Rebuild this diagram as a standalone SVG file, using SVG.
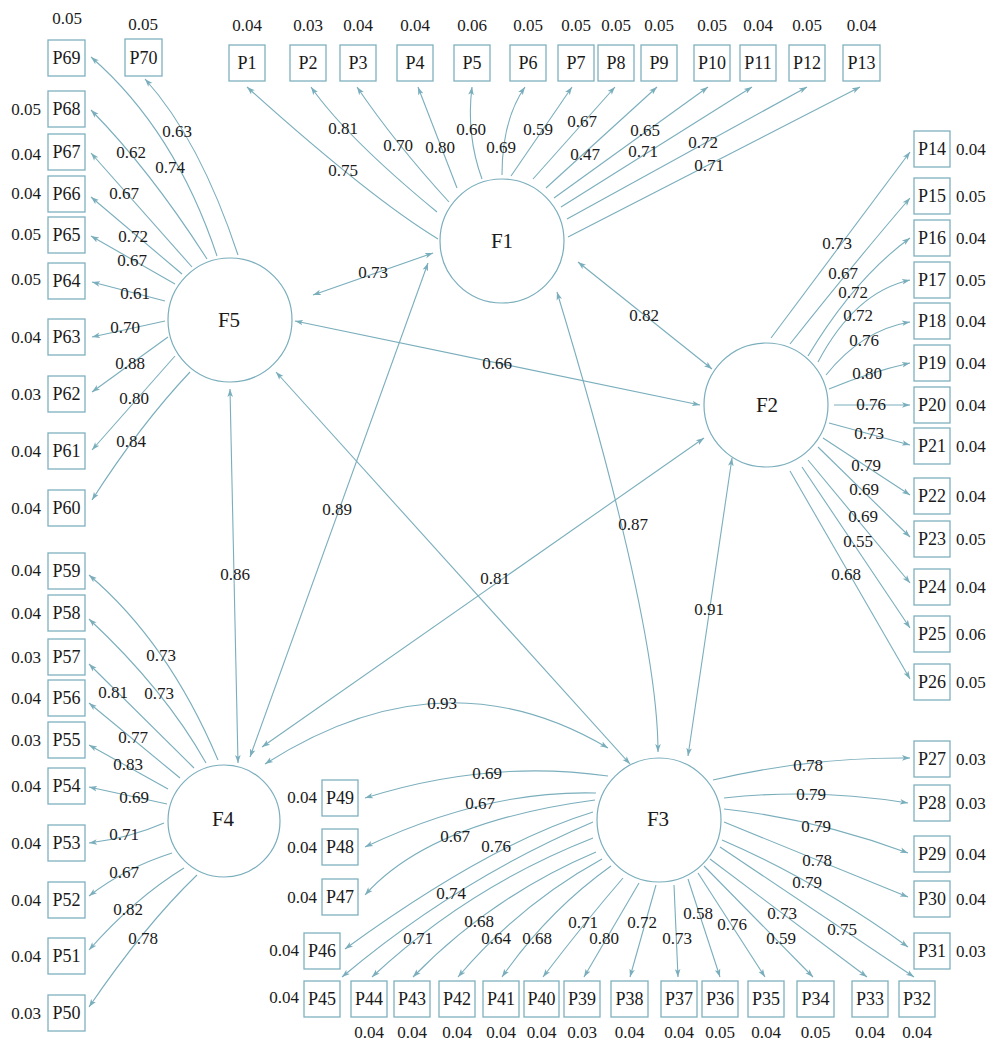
<svg xmlns="http://www.w3.org/2000/svg" width="989" height="1040" viewBox="0 0 989 1040">
<defs>
<style>
text{font-family:"Liberation Serif","Times New Roman",serif;fill:#1a1a1a}
.n{font-size:17px;text-anchor:middle}
.nl{font-size:17px;text-anchor:end}
.nr{font-size:17px;text-anchor:start}
.bt{font-size:18px;text-anchor:middle}
.ft{font-size:21px;text-anchor:middle}
rect{fill:#fff;stroke:#7fb0bf;stroke-width:1.3}
circle{fill:#fff;stroke:#7aaebc;stroke-width:1.2}
.e{fill:none;stroke:#7aaebc;stroke-width:1.1;marker-end:url(#ah)}
.c{fill:none;stroke:#7aaebc;stroke-width:1.1;marker-start:url(#ah);marker-end:url(#ah)}
</style>
<marker id="ah" viewBox="0 0 10 10" refX="10" refY="5" markerWidth="8" markerHeight="8" markerUnits="userSpaceOnUse" orient="auto-start-reverse"><path d="M0,1.5 L10,5 L0,8.5 L2.5,5 z" fill="#7aaebc"/></marker>
</defs>
<rect x="0" y="0" width="989" height="1040" style="fill:#fff;stroke:none"/>
<g id="connectors">
<!-- F1 loadings -->
<path class="e" d="M438,239 Q369,197 247,87"/>
<path class="e" d="M437,212 Q347,138 311,87"/>
<path class="e" d="M449,202 Q395,143 357,87"/>
<path class="e" d="M457,188 L418,87"/>
<path class="e" d="M482,179 Q466,135 472,87"/>
<path class="e" d="M502,175 Q502,120 525,87"/>
<path class="e" d="M511,176 L572,87"/>
<path class="e" d="M533,179 L615,87"/>
<path class="e" d="M546,188 L657,87"/>
<path class="e" d="M554,198 L708,87"/>
<path class="e" d="M561,207 L752,87"/>
<path class="e" d="M567,219 L807,87"/>
<path class="e" d="M568,237 L860,87"/>
<!-- F2 loadings -->
<path class="e" d="M771,338 L910,152"/>
<path class="e" d="M790,344 Q855,262 910,198"/>
<path class="e" d="M808,356 Q855,278 910,238"/>
<path class="e" d="M818,362 Q855,292 910,280"/>
<path class="e" d="M826,375 Q862,330 910,322"/>
<path class="e" d="M829,389 Q870,372 910,363"/>
<path class="e" d="M834,405 L910,405"/>
<path class="e" d="M829,423 L910,445"/>
<path class="e" d="M823,438 L910,495"/>
<path class="e" d="M818,447 L910,537"/>
<path class="e" d="M808,460 L910,583"/>
<path class="e" d="M802,467 L910,628"/>
<path class="e" d="M790,471 L910,679"/>
<!-- F3 loadings -->
<path class="e" d="M713,780 Q810,757 910,758"/>
<path class="e" d="M724,798 Q815,788 908,803"/>
<path class="e" d="M724,809 Q816,819 908,853"/>
<path class="e" d="M724,822 L908,897"/>
<path class="e" d="M722,840 Q815,880 908,947"/>
<path class="e" d="M720,847 L914,977"/>
<path class="e" d="M710,859 L867,977"/>
<path class="e" d="M704,866 L813,977"/>
<path class="e" d="M698,873 L765,977"/>
<path class="e" d="M688,879 L720,977"/>
<path class="e" d="M674,885 L678,977"/>
<path class="e" d="M656,885 L630,977"/>
<path class="e" d="M639,883 L584,977"/>
<path class="e" d="M623,878 Q585,922 543,977"/>
<path class="e" d="M611,866 Q548,911 502,977"/>
<path class="e" d="M602,859 Q520,904 458,977"/>
<path class="e" d="M596,852 Q492,896 413,977"/>
<path class="e" d="M593,838 Q468,887 372,977"/>
<path class="e" d="M593,822 Q457,880 342,977"/>
<path class="e" d="M593,812 Q491,843 345,949"/>
<path class="e" d="M595,800 Q430,822 365,895"/>
<path class="e" d="M596,793 Q485,790 365,847"/>
<path class="e" d="M608,776 Q488,759 365,798"/>
<!-- F4 loadings -->
<path class="e" d="M218,760 Q168,642 89,575"/>
<path class="e" d="M206,763 Q165,690 89,619"/>
<path class="e" d="M194,768 L89,664"/>
<path class="e" d="M180,778 L89,703"/>
<path class="e" d="M168,789 L89,745"/>
<path class="e" d="M167,804 L89,787"/>
<path class="e" d="M164,823 Q130,838 89,843"/>
<path class="e" d="M172,853 Q125,868 89,896"/>
<path class="e" d="M184,868 Q135,898 89,950"/>
<path class="e" d="M197,875 Q145,925 89,1007"/>
<!-- F5 loadings -->
<path class="e" d="M238,255 Q200,140 145,79"/>
<path class="e" d="M217,256 Q175,130 91,57"/>
<path class="e" d="M207,259 Q150,170 91,110"/>
<path class="e" d="M192,267 L91,153"/>
<path class="e" d="M182,274 L91,197"/>
<path class="e" d="M175,284 L91,236"/>
<path class="e" d="M165,301 L92,282"/>
<path class="e" d="M165,321 L92,337"/>
<path class="e" d="M168,337 L92,392"/>
<path class="e" d="M175,356 L92,450"/>
<path class="e" d="M190,372 Q140,425 92,500"/>
<!-- correlations -->
<path class="c" d="M313,295 L433,253"/>
<path class="c" d="M578,262 L712,369"/>
<path class="c" d="M295,321 L700,405"/>
<path class="c" d="M428,263 L250,757"/>
<path class="c" d="M704,438 L262,747"/>
<path class="c" d="M276,372 L630,764"/>
<path class="c" d="M230,389 L238,763"/>
<path class="c" d="M557,292 Q658,625 658,752"/>
<path class="c" d="M732,458 L688,756"/>
<path class="c" d="M265,764 Q443,650 608,748"/>
<!-- loading labels -->
<g class="lbl">
<text class="n" x="343" y="176">0.75</text>
<text class="n" x="343" y="134">0.81</text>
<text class="n" x="398" y="151">0.70</text>
<text class="n" x="440" y="153">0.80</text>
<text class="n" x="471" y="135">0.60</text>
<text class="n" x="501" y="153">0.69</text>
<text class="n" x="538" y="135">0.59</text>
<text class="n" x="582" y="127">0.67</text>
<text class="n" x="585" y="160">0.47</text>
<text class="n" x="645" y="136">0.65</text>
<text class="n" x="643" y="157">0.71</text>
<text class="n" x="703" y="148">0.72</text>
<text class="n" x="709" y="171">0.71</text>

<text class="n" x="837" y="249">0.73</text>
<text class="n" x="843" y="279">0.67</text>
<text class="n" x="853" y="298">0.72</text>
<text class="n" x="858" y="321">0.72</text>
<text class="n" x="864" y="346">0.76</text>
<text class="n" x="867" y="379">0.80</text>
<text class="n" x="871" y="410">0.76</text>
<text class="n" x="869" y="439">0.73</text>
<text class="n" x="866" y="471">0.79</text>
<text class="n" x="864" y="495">0.69</text>
<text class="n" x="863" y="522">0.69</text>
<text class="n" x="858" y="547">0.55</text>
<text class="n" x="846" y="580">0.68</text>

<text class="n" x="808" y="771">0.78</text>
<text class="n" x="811" y="800">0.79</text>
<text class="n" x="816" y="832">0.79</text>
<text class="n" x="817" y="866">0.78</text>
<text class="n" x="807" y="888">0.79</text>
<text class="n" x="842" y="935">0.75</text>
<text class="n" x="782" y="919">0.73</text>
<text class="n" x="781" y="944">0.59</text>
<text class="n" x="732" y="930">0.76</text>
<text class="n" x="698" y="919">0.58</text>
<text class="n" x="677" y="944">0.73</text>
<text class="n" x="642" y="928">0.72</text>
<text class="n" x="604" y="944">0.80</text>
<text class="n" x="583" y="928">0.71</text>
<text class="n" x="537" y="944">0.68</text>
<text class="n" x="496" y="944">0.64</text>
<text class="n" x="479" y="927">0.68</text>
<text class="n" x="418" y="944">0.71</text>
<text class="n" x="451" y="899">0.74</text>
<text class="n" x="496" y="852">0.76</text>
<text class="n" x="455" y="842">0.67</text>
<text class="n" x="480" y="809">0.67</text>
<text class="n" x="487" y="779">0.69</text>

<text class="n" x="161" y="661">0.73</text>
<text class="n" x="159" y="699">0.73</text>
<text class="n" x="113" y="698">0.81</text>
<text class="n" x="133" y="743">0.77</text>
<text class="n" x="128" y="770">0.83</text>
<text class="n" x="134" y="803">0.69</text>
<text class="n" x="124" y="840">0.71</text>
<text class="n" x="124" y="878">0.67</text>
<text class="n" x="128" y="915">0.82</text>
<text class="n" x="143" y="944">0.78</text>

<text class="n" x="177" y="137">0.63</text>
<text class="n" x="170" y="173">0.74</text>
<text class="n" x="131" y="158">0.62</text>
<text class="n" x="124" y="199">0.67</text>
<text class="n" x="133" y="242">0.72</text>
<text class="n" x="132" y="266">0.67</text>
<text class="n" x="135" y="299">0.61</text>
<text class="n" x="125" y="333">0.70</text>
<text class="n" x="130" y="369">0.88</text>
<text class="n" x="134" y="404">0.80</text>
<text class="n" x="131" y="447">0.84</text>

<text class="n" x="373" y="278">0.73</text>
<text class="n" x="644" y="321">0.82</text>
<text class="n" x="497" y="369">0.66</text>
<text class="n" x="337" y="515">0.89</text>
<text class="n" x="495" y="584">0.81</text>
<text class="n" x="235" y="580">0.86</text>
<text class="n" x="633" y="530">0.87</text>
<text class="n" x="709" y="615">0.91</text>
<text class="n" x="442" y="709">0.93</text>
</g>
</g>

<!-- latent factors -->
<g id="F1"><circle cx="502" cy="241" r="62"/><text class="ft" x="502" y="248">F1</text></g>
<g id="F2"><circle cx="766" cy="405" r="62"/><text class="ft" x="767" y="412">F2</text></g>
<g id="F3"><circle cx="659" cy="820" r="62"/><text class="ft" x="658" y="826">F3</text></g>
<g id="F4"><circle cx="224" cy="821" r="56"/><text class="ft" x="223" y="826">F4</text></g>
<g id="F5"><circle cx="230" cy="320" r="62"/><text class="ft" x="229" y="327">F5</text></g>

<!-- top row -->
<g id="P1"><rect x="229" y="45" width="36" height="36"/><text class="bt" x="247" y="69">P1</text><text class="n" x="247" y="31">0.04</text></g>
<g id="P2"><rect x="290" y="45" width="36" height="36"/><text class="bt" x="308" y="69">P2</text><text class="n" x="308" y="31">0.03</text></g>
<g id="P3"><rect x="340" y="45" width="36" height="36"/><text class="bt" x="358" y="69">P3</text><text class="n" x="358" y="31">0.04</text></g>
<g id="P4"><rect x="397" y="45" width="36" height="36"/><text class="bt" x="415" y="69">P4</text><text class="n" x="415" y="31">0.04</text></g>
<g id="P5"><rect x="454" y="45" width="36" height="36"/><text class="bt" x="472" y="69">P5</text><text class="n" x="472" y="31">0.06</text></g>
<g id="P6"><rect x="510" y="45" width="36" height="36"/><text class="bt" x="528" y="69">P6</text><text class="n" x="528" y="31">0.05</text></g>
<g id="P7"><rect x="558" y="45" width="36" height="36"/><text class="bt" x="576" y="69">P7</text><text class="n" x="576" y="31">0.05</text></g>
<g id="P8"><rect x="598" y="45" width="36" height="36"/><text class="bt" x="616" y="69">P8</text><text class="n" x="616" y="31">0.05</text></g>
<g id="P9"><rect x="641" y="45" width="36" height="36"/><text class="bt" x="659" y="69">P9</text><text class="n" x="659" y="31">0.05</text></g>
<g id="P10"><rect x="694" y="45" width="36" height="36"/><text class="bt" x="712" y="69">P10</text><text class="n" x="712" y="31">0.05</text></g>
<g id="P11"><rect x="740" y="45" width="36" height="36"/><text class="bt" x="758" y="69">P11</text><text class="n" x="758" y="31">0.04</text></g>
<g id="P12"><rect x="789" y="45" width="36" height="36"/><text class="bt" x="807" y="69">P12</text><text class="n" x="807" y="31">0.05</text></g>
<g id="P13"><rect x="843" y="45" width="37" height="36"/><text class="bt" x="861.5" y="69">P13</text><text class="n" x="861.5" y="31">0.04</text></g>

<!-- right column -->
<g id="P14"><rect x="914" y="131" width="36" height="36"/><text class="bt" x="932" y="155">P14</text><text class="nr" x="956" y="155">0.04</text></g>
<g id="P15"><rect x="914" y="178" width="36" height="36"/><text class="bt" x="932" y="202">P15</text><text class="nr" x="956" y="202">0.05</text></g>
<g id="P16"><rect x="914" y="220" width="36" height="36"/><text class="bt" x="932" y="244">P16</text><text class="nr" x="956" y="244">0.04</text></g>
<g id="P17"><rect x="914" y="262" width="36" height="36"/><text class="bt" x="932" y="286">P17</text><text class="nr" x="956" y="286">0.05</text></g>
<g id="P18"><rect x="914" y="303" width="36" height="36"/><text class="bt" x="932" y="327">P18</text><text class="nr" x="956" y="327">0.04</text></g>
<g id="P19"><rect x="914" y="345" width="36" height="36"/><text class="bt" x="932" y="369">P19</text><text class="nr" x="956" y="369">0.04</text></g>
<g id="P20"><rect x="914" y="387" width="36" height="36"/><text class="bt" x="932" y="411">P20</text><text class="nr" x="956" y="411">0.04</text></g>
<g id="P21"><rect x="914" y="428" width="36" height="36"/><text class="bt" x="932" y="452">P21</text><text class="nr" x="956" y="452">0.04</text></g>
<g id="P22"><rect x="914" y="478" width="36" height="36"/><text class="bt" x="932" y="502">P22</text><text class="nr" x="956" y="502">0.04</text></g>
<g id="P23"><rect x="914" y="521" width="36" height="36"/><text class="bt" x="932" y="545">P23</text><text class="nr" x="956" y="545">0.05</text></g>
<g id="P24"><rect x="914" y="569" width="36" height="36"/><text class="bt" x="932" y="593">P24</text><text class="nr" x="956" y="593">0.04</text></g>
<g id="P25"><rect x="914" y="616" width="36" height="36"/><text class="bt" x="932" y="640">P25</text><text class="nr" x="956" y="640">0.06</text></g>
<g id="P26"><rect x="914" y="664" width="36" height="36"/><text class="bt" x="932" y="688">P26</text><text class="nr" x="956" y="688">0.05</text></g>
<g id="P27"><rect x="914" y="741" width="36" height="36"/><text class="bt" x="932" y="765">P27</text><text class="nr" x="956" y="765">0.03</text></g>
<g id="P28"><rect x="914" y="785" width="36" height="36"/><text class="bt" x="932" y="809">P28</text><text class="nr" x="956" y="809">0.03</text></g>
<g id="P29"><rect x="914" y="836" width="36" height="36"/><text class="bt" x="932" y="860">P29</text><text class="nr" x="956" y="860">0.04</text></g>
<g id="P30"><rect x="914" y="881" width="36" height="36"/><text class="bt" x="932" y="905">P30</text><text class="nr" x="956" y="905">0.04</text></g>
<g id="P31"><rect x="914" y="933" width="36" height="36"/><text class="bt" x="932" y="957">P31</text><text class="nr" x="956" y="957">0.03</text></g>

<!-- bottom row -->
<g id="P32"><rect x="899" y="981" width="36" height="36"/><text class="bt" x="917" y="1005">P32</text><text class="n" x="917" y="1038">0.04</text></g>
<g id="P33"><rect x="852" y="981" width="36" height="36"/><text class="bt" x="870" y="1005">P33</text><text class="n" x="870" y="1038">0.04</text></g>
<g id="P34"><rect x="797" y="981" width="37" height="36"/><text class="bt" x="815.5" y="1005">P34</text><text class="n" x="815.5" y="1038">0.05</text></g>
<g id="P35"><rect x="748" y="981" width="36" height="36"/><text class="bt" x="766" y="1005">P35</text><text class="n" x="766" y="1038">0.04</text></g>
<g id="P36"><rect x="702" y="981" width="36" height="36"/><text class="bt" x="720" y="1005">P36</text><text class="n" x="720" y="1038">0.05</text></g>
<g id="P37"><rect x="661" y="981" width="36" height="36"/><text class="bt" x="679" y="1005">P37</text><text class="n" x="679" y="1038">0.04</text></g>
<g id="P38"><rect x="611" y="981" width="37" height="36"/><text class="bt" x="629.5" y="1005">P38</text><text class="n" x="629.5" y="1038">0.04</text></g>
<g id="P39"><rect x="564" y="981" width="36" height="36"/><text class="bt" x="582" y="1005">P39</text><text class="n" x="582" y="1038">0.03</text></g>
<g id="P40"><rect x="524" y="981" width="35" height="36"/><text class="bt" x="541.5" y="1005">P40</text><text class="n" x="541.5" y="1038">0.04</text></g>
<g id="P41"><rect x="483" y="981" width="36" height="36"/><text class="bt" x="501" y="1005">P41</text><text class="n" x="501" y="1038">0.04</text></g>
<g id="P42"><rect x="439" y="981" width="36" height="36"/><text class="bt" x="457" y="1005">P42</text><text class="n" x="457" y="1038">0.04</text></g>
<g id="P43"><rect x="394" y="981" width="36" height="36"/><text class="bt" x="412" y="1005">P43</text><text class="n" x="412" y="1038">0.04</text></g>
<g id="P44"><rect x="351" y="981" width="36" height="36"/><text class="bt" x="369" y="1005">P44</text><text class="n" x="369" y="1038">0.04</text></g>
<g id="P45"><rect x="304" y="981" width="36" height="36"/><text class="bt" x="322" y="1005">P45</text><text class="nl" x="299" y="1003">0.04</text></g>
<g id="P46"><rect x="304" y="933" width="36" height="36"/><text class="bt" x="322" y="957">P46</text><text class="nl" x="299" y="956">0.04</text></g>
<g id="P47"><rect x="322" y="879" width="36" height="36"/><text class="bt" x="340" y="903">P47</text><text class="nl" x="317" y="903">0.04</text></g>
<g id="P48"><rect x="322" y="829" width="36" height="36"/><text class="bt" x="340" y="853">P48</text><text class="nl" x="317" y="853">0.04</text></g>
<g id="P49"><rect x="322" y="780" width="36" height="36"/><text class="bt" x="340" y="804">P49</text><text class="nl" x="317" y="803">0.04</text></g>

<!-- left column -->
<g id="P50"><rect x="48" y="995" width="37" height="36"/><text class="bt" x="66.5" y="1019">P50</text><text class="nl" x="41" y="1019">0.03</text></g>
<g id="P51"><rect x="48" y="938" width="37" height="36"/><text class="bt" x="66.5" y="962">P51</text><text class="nl" x="41" y="962">0.04</text></g>
<g id="P52"><rect x="48" y="882" width="37" height="36"/><text class="bt" x="66.5" y="906">P52</text><text class="nl" x="41" y="906">0.04</text></g>
<g id="P53"><rect x="48" y="825" width="37" height="36"/><text class="bt" x="66.5" y="849">P53</text><text class="nl" x="41" y="849">0.04</text></g>
<g id="P54"><rect x="48" y="768" width="37" height="36"/><text class="bt" x="66.5" y="792">P54</text><text class="nl" x="41" y="792">0.04</text></g>
<g id="P55"><rect x="48" y="722" width="37" height="36"/><text class="bt" x="66.5" y="746">P55</text><text class="nl" x="41" y="746">0.03</text></g>
<g id="P56"><rect x="48" y="680" width="37" height="36"/><text class="bt" x="66.5" y="704">P56</text><text class="nl" x="41" y="704">0.04</text></g>
<g id="P57"><rect x="48" y="639" width="37" height="36"/><text class="bt" x="66.5" y="663">P57</text><text class="nl" x="41" y="663">0.03</text></g>
<g id="P58"><rect x="48" y="595" width="37" height="36"/><text class="bt" x="66.5" y="619">P58</text><text class="nl" x="41" y="619">0.04</text></g>
<g id="P59"><rect x="48" y="553" width="37" height="36"/><text class="bt" x="66.5" y="577">P59</text><text class="nl" x="41" y="576">0.04</text></g>
<g id="P60"><rect x="48" y="490" width="37" height="36"/><text class="bt" x="66.5" y="514">P60</text><text class="nl" x="41" y="514">0.04</text></g>
<g id="P61"><rect x="48" y="433" width="37" height="36"/><text class="bt" x="66.5" y="457">P61</text><text class="nl" x="41" y="457">0.04</text></g>
<g id="P62"><rect x="48" y="376" width="37" height="36"/><text class="bt" x="66.5" y="400">P62</text><text class="nl" x="41" y="400">0.03</text></g>
<g id="P63"><rect x="48" y="319" width="37" height="36"/><text class="bt" x="66.5" y="343">P63</text><text class="nl" x="41" y="343">0.04</text></g>
<g id="P64"><rect x="48" y="263" width="37" height="36"/><text class="bt" x="66.5" y="287">P64</text><text class="nl" x="41" y="285">0.05</text></g>
<g id="P65"><rect x="48" y="217" width="37" height="36"/><text class="bt" x="66.5" y="241">P65</text><text class="nl" x="41" y="240">0.05</text></g>
<g id="P66"><rect x="48" y="176" width="37" height="36"/><text class="bt" x="66.5" y="200">P66</text><text class="nl" x="41" y="199">0.04</text></g>
<g id="P67"><rect x="48" y="134" width="37" height="36"/><text class="bt" x="66.5" y="158">P67</text><text class="nl" x="41" y="160">0.04</text></g>
<g id="P68"><rect x="48" y="91" width="37" height="36"/><text class="bt" x="66.5" y="115">P68</text><text class="nl" x="41" y="115">0.05</text></g>
<g id="P69"><rect x="48" y="40" width="37" height="36"/><text class="bt" x="66.5" y="64">P69</text><text class="n" x="67" y="24">0.05</text></g>
<g id="P70"><rect x="125" y="39" width="37" height="37"/><text class="bt" x="143.5" y="64">P70</text><text class="n" x="143" y="30">0.05</text></g>
</svg>
